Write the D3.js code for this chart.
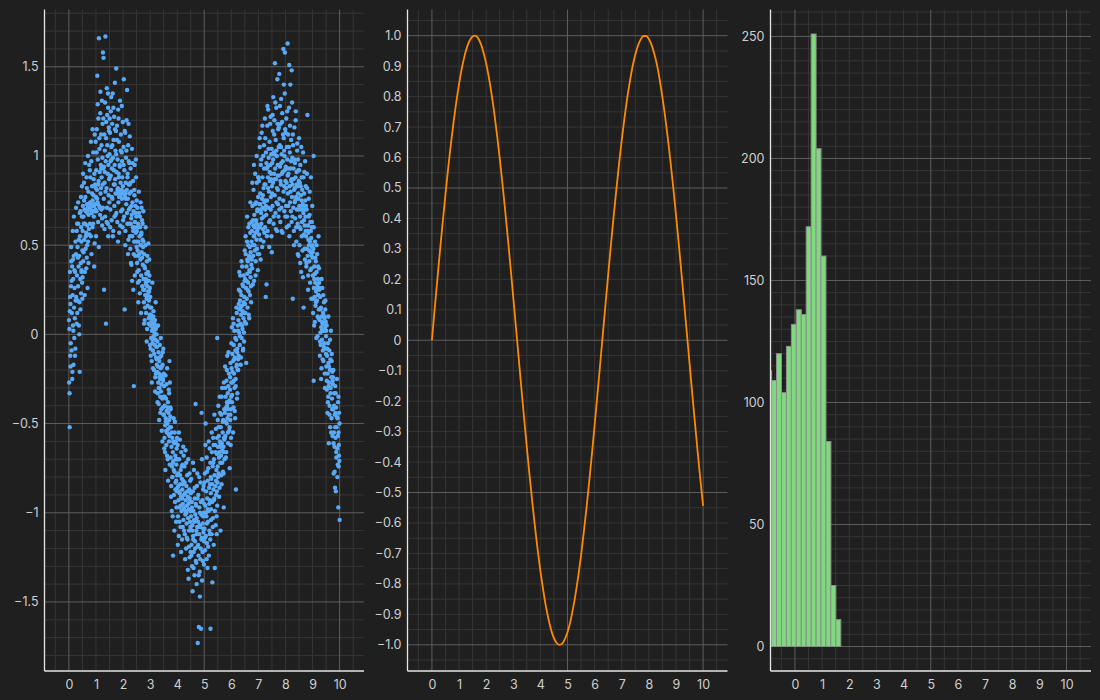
<!DOCTYPE html>
<html>
<head>
<meta charset="utf-8">
<script src="https://cdn.jsdelivr.net/npm/d3@7/dist/d3.min.js"></script>
<style>
  html, body { margin: 0; padding: 0; background: #1f1f1f; }
  svg { display: block; }
  text { font-family: Inter, "Noto Sans", sans-serif; }
</style>
</head>
<body>
<svg id="chart" width="1100" height="700"></svg>
<script>
// ---------------- DATA ----------------
const xTickLabels = [0,1,2,3,4,5,6,7,8,9,10];
const scatterYTicks = [-1.5,-1,-0.5,0,0.5,1,1.5];
const lineYTicks = [1.0,0.9,0.8,0.7,0.6,0.5,0.4,0.3,0.2,0.1,0,-0.1,-0.2,-0.3,-0.4,-0.5,-0.6,-0.7,-0.8,-0.9,-1.0];
const histYTicks = [0,50,100,150,200,250];

// scatter points "x,y"
const scatterPoints = `
0.01,-0.27 0.02,0.03 0.03,-0.52 0.04,0.35 0.05,-0.12 0.06,0.17 0.07,-0.05 0.08,0.27 0.09,0.41 0.10,-0.09 0.11,0.12 0.12,0.38 0.13,-0.21 0.14,0.22 0.15,0.05 0.16,0.31 0.17,-0.17 0.18,0.44 0.19,0.15 0.20,-0.02 0.21,0.26 0.22,0.09 0.23,0.35 0.24,-0.08 0.25,0.19
0.26,0.45 0.27,0.21 0.29,0.58 0.30,0.33 0.31,0.12 0.32,0.49 0.34,0.27 0.35,0.62 0.36,0.38 0.37,0.05 0.38,0.44 0.39,0.18 0.40,-0.21 0.41,0.55 0.42,0.31 0.43,0.69 0.44,0.40 0.45,0.23 0.46,0.52 0.47,0.36 0.48,0.66 0.49,0.29 0.50,0.47
0.51,0.58 0.52,0.72 0.53,0.41 0.54,0.66 0.56,0.85 0.57,0.53 0.58,0.70 0.59,0.35 0.60,0.62 0.61,0.77 0.62,0.48 0.63,0.69 0.64,0.57 0.65,0.88 0.66,0.43 0.67,0.73 0.68,0.61 0.69,0.26 0.70,0.71 0.71,0.52 0.72,0.80 0.73,0.67 0.74,0.59 0.75,0.95
0.76,0.70 0.77,0.73 0.78,0.62 0.79,0.88 0.80,0.71 0.81,0.55 0.82,0.74 0.83,0.97 0.84,0.68 0.85,0.72 0.86,0.83 0.87,0.60 0.88,0.75 0.89,0.69 0.90,1.02 0.91,0.78 0.92,0.66 0.93,0.72 0.94,0.90 0.95,0.51 0.96,0.73 0.97,0.84 0.98,0.70 0.99,1.08 1.00,0.77
1.01,0.92 1.02,0.69 1.03,1.15 1.04,0.81 1.05,1.45 1.06,0.74 1.07,0.98 1.08,0.63 1.09,1.21 1.10,0.86 1.11,1.66 1.12,0.72 1.13,1.04 1.14,0.91 1.15,0.67 1.16,1.24 1.17,0.79 1.18,0.95 1.19,1.12 1.20,0.70 1.21,0.88 1.22,1.31 1.23,0.61 1.24,0.99 1.25,0.84
1.26,1.58 1.27,0.93 1.28,1.55 1.29,0.76 1.30,0.25 1.31,1.12 1.32,0.85 1.33,1.03 1.34,0.66 1.35,1.67 1.36,0.97 1.37,0.06 1.38,1.19 1.39,0.82 1.40,1.38 1.41,0.71 1.42,1.06 1.43,0.90 1.44,0.62 1.45,1.27 1.46,0.95 1.47,0.78 1.48,1.14 1.49,0.87 1.50,1.01
1.51,0.88 1.52,1.13 1.53,0.70 1.54,0.97 1.55,1.25 1.56,0.81 1.57,1.05 1.58,0.64 1.59,0.93 1.60,1.18 1.61,0.76 1.62,1.35 1.63,0.99 1.64,0.58 1.65,1.09 1.66,0.84 1.67,1.22 1.68,0.72 1.69,0.95 1.70,1.41 1.71,0.87 1.72,1.03 1.73,0.67 1.74,1.14 1.75,1.49
1.76,0.91 1.77,0.79 1.78,1.17 1.79,0.63 1.80,0.98 1.81,0.82 1.82,1.26 1.83,0.74 1.84,0.90 1.85,1.08 1.86,0.57 1.87,0.80 1.88,0.94 1.89,1.31 1.90,0.78 1.91,0.85 1.92,1.12 1.93,0.69 1.94,0.81 1.95,1.02 1.96,0.76 1.97,0.88 1.98,0.60 1.99,1.19 2.00,0.79
2.01,0.80 2.02,1.05 2.03,1.43 2.04,0.66 2.05,0.92 2.06,0.14 2.07,0.77 2.08,1.13 2.09,0.58 2.10,0.85 2.11,0.99 2.12,0.73 2.13,1.20 2.14,0.81 2.15,1.37 2.16,0.62 2.17,0.90 2.18,0.76 2.19,1.06 2.20,0.53 2.21,0.84 2.22,0.70 2.23,0.96 2.24,0.79 2.25,1.11
2.26,0.71 2.27,0.48 2.28,0.93 2.29,0.62 2.30,0.80 2.31,0.39 2.32,0.67 2.33,1.04 2.34,0.55 2.35,0.74 2.36,0.60 2.37,0.86 2.38,0.25 2.39,0.69 2.40,-0.29 2.41,0.52 2.42,0.78 2.43,0.95 2.44,0.63 2.45,0.44 2.46,0.72 2.47,0.57 2.48,0.88 2.49,0.66 2.50,0.49
2.51,0.58 2.52,0.40 2.53,0.71 2.54,0.47 2.55,0.29 2.56,0.62 2.57,0.52 2.58,0.36 2.59,0.68 2.60,0.45 2.61,0.55 2.62,0.23 2.63,0.60 2.64,0.42 2.65,0.74 2.66,0.50 2.67,0.33 2.68,0.57 2.69,0.46 2.70,0.64 2.71,0.27 2.72,0.53 2.73,0.39 2.74,0.49 2.75,0.69
2.76,0.31 2.77,0.18 2.78,0.45 2.79,0.25 2.80,0.08 2.81,0.37 2.82,0.22 2.83,0.50 2.84,0.29 2.85,0.12 2.86,0.34 2.87,0.20 2.88,0.41 2.89,0.03 2.90,0.27 2.91,0.16 2.92,0.35 2.93,0.24 2.94,0.06 2.95,0.30 2.96,0.19 2.97,0.42 2.98,0.11 2.99,0.26 3.00,0.15
3.01,0.05 3.02,-0.08 3.03,0.11 3.04,-0.02 3.05,0.07 3.06,-0.15 3.07,0.02 3.08,0.09 3.09,-0.05 3.10,0.04 3.11,-0.19 3.12,0.10 3.13,-0.01 3.14,0.06 3.15,-0.11 3.16,0.01 3.17,-0.06 3.18,0.08 3.19,-0.24 3.20,-0.03 3.21,0.03 3.22,-0.13 3.23,-0.07 3.24,0.00 3.25,-0.17
3.26,-0.21 3.27,-0.04 3.28,-0.33 3.29,-0.18 3.30,-0.27 3.31,-0.10 3.32,-0.39 3.33,-0.22 3.34,-0.15 3.35,-0.30 3.36,-0.06 3.37,-0.25 3.38,-0.44 3.39,-0.19 3.40,-0.32 3.41,-0.12 3.42,-0.28 3.43,-0.54 3.44,-0.23 3.45,-0.36 3.46,-0.17 3.47,-0.41 3.48,-0.26 3.49,-0.08 3.50,-0.35
3.51,-0.45 3.52,-0.29 3.53,-0.58 3.54,-0.40 3.55,-0.66 3.56,-0.51 3.57,-0.23 3.58,-0.47 3.59,-0.36 3.60,-0.62 3.61,-0.43 3.62,-0.55 3.63,-0.19 3.64,-0.50 3.65,-0.70 3.66,-0.38 3.67,-0.53 3.68,-0.44 3.69,-0.31 3.70,-0.60 3.71,-0.48 3.72,-0.57 3.73,-0.27 3.74,-0.52 3.75,-0.41
3.76,-0.69 3.77,-0.52 3.78,-0.85 3.79,-0.63 3.80,-0.99 3.81,-0.74 3.82,-0.58 3.83,-0.80 3.84,-0.66 3.85,-1.24 3.86,-0.71 3.87,-0.47 3.88,-0.90 3.89,-0.61 3.90,-0.77 3.91,-0.55 3.92,-0.94 3.93,-0.68 3.94,-0.83 3.95,-0.60 3.96,-1.05 3.97,-0.73 3.98,-0.64 3.99,-0.88 4.00,-0.79
4.01,-0.86 4.02,-0.62 4.03,-1.02 4.04,-0.78 4.05,-0.93 4.06,-1.13 4.07,-0.70 4.08,-0.88 4.09,-0.97 4.10,-0.59 4.11,-0.84 4.12,-1.08 4.13,-0.76 4.14,-0.91 4.15,-0.66 4.16,-0.99 4.17,-0.81 4.18,-1.15 4.19,-0.87 4.20,-0.73 4.21,-0.95 4.22,-0.82 4.23,-1.04 4.24,-0.68 4.25,-0.90
4.26,-0.97 4.27,-0.74 4.28,-1.12 4.29,-0.89 4.30,-1.01 4.31,-0.65 4.32,-0.93 4.33,-1.20 4.34,-0.85 4.35,-1.06 4.36,-0.96 4.37,-0.79 4.38,-1.15 4.39,-0.91 4.40,-1.03 4.41,-0.70 4.42,-1.37 4.43,-0.98 4.44,-1.10 4.45,-0.87 4.46,-1.25 4.47,-0.94 4.48,-0.82 4.49,-1.08 4.50,-0.99
4.51,-1.02 4.52,-0.81 4.53,-1.18 4.54,-0.94 4.55,-1.30 4.56,-1.07 4.57,-1.44 4.58,-0.88 4.59,-1.13 4.60,-0.99 4.61,-1.22 4.62,-0.76 4.63,-1.05 4.64,-1.35 4.65,-0.92 4.66,-1.16 4.67,-1.01 4.68,-0.39 4.69,-1.27 4.70,-0.96 4.71,-1.10 4.72,-1.40 4.73,-0.85 4.74,-1.08 4.75,-1.19
4.76,-1.73 4.77,-1.05 4.78,-0.90 4.79,-1.24 4.80,-1.64 4.81,-1.12 4.82,-0.97 4.83,-1.33 4.84,-1.47 4.85,-1.08 4.86,-0.83 4.87,-1.20 4.88,-1.65 4.89,-1.01 4.90,-0.44 4.91,-1.14 4.92,-1.38 4.93,-0.93 4.94,-1.06 4.95,-1.27 4.96,-0.87 4.97,-1.11 4.98,-1.00 4.99,-1.29 5.00,-0.95
5.01,-1.09 5.02,-0.78 5.03,-1.21 5.04,-0.96 5.05,-0.50 5.06,-1.13 5.07,-0.88 5.08,-1.02 5.09,-0.69 5.10,-1.17 5.11,-0.92 5.12,-1.31 5.13,-0.82 5.14,-1.05 5.15,-0.75 5.16,-0.99 5.17,-1.24 5.18,-0.86 5.19,-1.10 5.20,-0.64 5.21,-0.93 5.22,-1.15 5.23,-1.65 5.24,-0.80 5.25,-1.04
5.26,-0.81 5.27,-1.12 5.28,-0.66 5.29,-0.94 5.30,-1.39 5.31,-0.74 5.32,-1.03 5.33,-0.58 5.34,-0.87 5.35,-1.18 5.36,-0.70 5.37,-0.92 5.38,-0.79 5.39,-1.31 5.40,-0.62 5.41,-0.85 5.42,-1.07 5.43,-0.53 5.44,-0.90 5.45,-0.76 5.46,-1.12 5.47,-0.67 5.48,-0.96 5.49,-0.83 5.50,-0.48 5.48,-0.02
5.51,-0.63 5.52,-0.40 5.53,-0.78 5.54,-0.57 5.55,-0.91 5.56,-0.66 5.57,-0.35 5.58,-0.60 5.59,-0.72 5.60,-1.10 5.61,-0.52 5.62,-0.68 5.63,-0.45 5.64,-0.84 5.65,-0.61 5.66,-0.30 5.67,-0.65 5.68,-0.55 5.69,-0.77 5.70,-0.48 5.71,-0.63 5.72,-0.97 5.73,-0.58 5.74,-0.42 5.75,-0.70
5.76,-0.44 5.77,-0.18 5.78,-0.57 5.79,-0.35 5.80,-0.69 5.81,-0.41 5.82,-0.26 5.83,-0.50 5.84,-0.38 5.85,-0.12 5.86,-0.47 5.87,-0.33 5.88,-0.61 5.89,-0.29 5.90,-0.45 5.91,-0.22 5.92,-0.54 5.93,-0.37 5.94,-0.75 5.95,-0.31 5.96,-0.48 5.97,-0.16 5.98,-0.42 5.99,-0.58 6.00,-0.27
6.01,-0.19 6.02,0.04 6.03,-0.34 6.04,-0.11 6.05,-0.27 6.06,0.09 6.07,-0.15 6.08,-0.41 6.09,-0.06 6.10,-0.22 6.11,0.02 6.12,-0.30 6.13,-0.13 6.14,-0.47 6.15,-0.09 6.16,-0.25 6.17,-0.87 6.18,-0.03 6.19,-0.18 6.20,0.12 6.21,-0.36 6.22,-0.08 6.23,-0.20 6.24,0.05 6.25,-0.14
6.26,0.08 6.27,-0.12 6.28,0.25 6.29,0.01 6.30,0.14 6.31,-0.06 6.32,0.19 6.33,0.33 6.34,0.06 6.35,-0.17 6.36,0.11 6.37,0.22 6.38,-0.02 6.39,0.16 6.40,0.38 6.41,0.03 6.42,0.13 6.43,-0.09 6.44,0.27 6.45,0.09 6.46,0.18 6.47,-0.04 6.48,0.21 6.49,0.30 6.50,0.07
6.51,0.31 6.52,0.12 6.53,0.45 6.54,0.26 6.55,-0.16 6.56,0.38 6.57,0.20 6.58,0.52 6.59,0.34 6.60,0.15 6.61,0.41 6.62,0.29 6.63,0.60 6.64,0.24 6.65,0.44 6.66,0.09 6.67,0.36 6.68,0.49 6.69,0.22 6.70,0.57 6.71,0.32 6.72,0.43 6.73,0.18 6.74,0.39 6.75,0.63
6.76,0.58 6.77,0.37 6.78,0.72 6.79,0.50 6.80,0.64 6.81,0.44 6.82,0.81 6.83,0.55 6.84,0.30 6.85,0.67 6.86,0.60 6.87,0.47 6.88,0.90 6.89,0.57 6.90,0.41 6.91,0.74 6.92,0.62 6.93,0.53 6.94,0.85 6.95,0.48 6.96,0.69 6.97,0.59 6.98,0.36 6.99,0.77 7.00,0.61
7.01,0.61 7.02,0.86 7.03,0.45 7.04,0.73 7.05,1.05 7.06,0.60 7.07,0.79 7.08,0.53 7.09,0.95 7.10,0.68 7.11,0.62 7.12,1.13 7.13,0.76 7.14,0.49 7.15,0.88 7.16,0.71 7.17,0.59 7.18,1.00 7.19,0.82 7.20,0.66 7.21,0.93 7.22,0.57 7.23,0.75 7.24,1.21 7.25,0.70
7.26,0.84 7.27,0.21 7.28,1.02 7.29,0.67 7.30,0.28 7.31,0.93 7.32,0.75 7.33,1.17 7.34,0.58 7.35,0.88 7.36,1.26 7.37,0.71 7.38,0.99 7.39,0.80 7.40,0.49 7.41,1.08 7.42,0.86 7.43,0.64 7.44,0.95 7.45,1.22 7.46,0.77 7.47,0.90 7.48,0.55 7.49,1.04 7.50,0.83
7.51,0.96 7.52,0.72 7.53,1.14 7.54,0.85 7.55,1.33 7.56,0.62 7.57,1.02 7.58,0.90 7.59,1.20 7.60,0.78 7.61,1.52 7.62,0.93 7.63,0.68 7.64,1.09 7.65,0.87 7.66,1.27 7.67,0.74 7.68,1.00 7.69,0.58 7.70,1.43 7.71,0.95 7.72,0.81 7.73,1.15 7.74,0.66 7.75,1.05
7.76,0.89 7.77,1.46 7.78,0.76 7.79,1.06 7.80,0.94 7.81,0.63 7.82,1.18 7.83,0.84 7.84,1.32 7.85,0.71 7.86,1.01 7.87,0.90 7.88,1.24 7.89,0.57 7.90,0.97 7.91,1.12 7.92,1.60 7.93,0.80 7.94,1.40 7.95,1.03 7.96,0.69 7.97,0.92 7.98,1.58 7.99,1.15 8.00,0.86
8.01,0.94 8.02,0.72 8.03,1.21 8.04,0.85 8.05,1.05 8.06,0.66 8.07,0.98 8.08,1.63 8.09,0.79 8.10,1.12 8.11,0.90 8.12,0.61 8.13,1.27 8.14,1.51 8.15,0.83 8.16,1.02 8.17,0.74 8.18,1.40 8.19,0.93 8.20,0.69 8.21,1.09 8.22,0.87 8.23,1.48 8.24,0.77 8.25,0.99
8.26,0.84 8.27,0.20 8.28,1.06 8.29,0.71 8.30,0.93 8.31,0.58 8.32,0.81 8.33,1.16 8.34,0.74 8.35,0.96 8.36,0.65 8.37,0.88 8.38,1.25 8.39,0.77 8.40,0.52 8.41,0.91 8.42,0.70 8.43,1.03 8.44,0.83 8.45,0.62 8.46,0.98 8.47,0.76 8.48,0.44 8.49,0.86 8.50,1.10
8.51,0.72 8.52,0.50 8.53,0.85 8.54,0.66 8.55,0.95 8.56,0.59 8.57,0.78 8.58,0.35 8.59,0.70 8.60,0.88 8.61,0.63 8.62,0.81 8.63,0.47 8.64,0.73 8.65,1.02 8.66,0.68 8.67,0.15 8.68,0.56 8.69,0.79 8.70,0.91 8.71,0.61 8.72,0.42 8.73,0.75 8.74,0.66 8.75,0.83
8.76,0.55 8.77,0.38 8.78,0.70 8.79,0.48 8.80,0.82 8.81,1.23 8.82,0.44 8.83,0.61 8.84,0.33 8.85,0.57 8.86,0.76 8.87,0.50 8.88,0.41 8.89,0.67 8.90,0.52 8.91,0.29 8.92,0.63 8.93,0.46 8.94,0.88 8.95,0.54 8.96,0.37 8.97,0.60 8.98,0.49 8.99,0.72 9.00,0.43
9.01,0.33 9.02,0.12 9.03,0.48 9.04,1.00 9.05,0.26 9.06,0.05 9.07,0.38 9.08,0.21 9.09,0.52 9.10,0.29 9.11,0.16 9.12,0.41 9.13,0.24 9.14,-0.02 9.15,0.35 9.16,0.19 9.17,0.45 9.18,0.28 9.19,0.10 9.20,0.31 9.21,0.22 9.22,0.55 9.23,0.14 9.24,0.37 9.25,0.25
9.26,0.08 9.27,-0.12 9.28,0.21 9.29,0.01 9.30,-0.06 9.31,0.15 9.32,0.04 9.33,-0.19 9.34,0.10 9.35,-0.03 9.36,0.26 9.37,0.06 9.38,-0.09 9.39,0.12 9.40,-0.15 9.41,0.02 9.42,0.18 9.43,-0.05 9.44,0.09 9.45,-0.22 9.46,0.03 9.47,0.14 9.48,-0.08 9.49,0.07 9.50,-0.01 9.04,-0.26
9.51,-0.18 9.52,0.05 9.53,-0.31 9.54,-0.12 9.55,-0.44 9.56,-0.22 9.57,-0.05 9.58,-0.35 9.59,-0.16 9.60,-0.61 9.61,-0.27 9.62,-0.09 9.63,-0.40 9.64,-0.20 9.65,-0.52 9.66,-0.14 9.67,-0.30 9.68,0.02 9.69,-0.24 9.70,-0.47 9.71,-0.11 9.72,-0.36 9.73,-0.21 9.74,-0.57 9.75,-0.28
9.76,-0.42 9.77,-0.20 9.78,-0.78 9.79,-0.55 9.80,-0.33 9.81,-0.63 9.82,-0.45 9.83,-0.86 9.84,-0.29 9.85,-0.58 9.86,-0.88 9.87,-0.41 9.88,-0.69 9.89,-0.52 9.90,-0.25 9.91,-0.64 9.92,-0.47 9.93,-0.73 9.94,-0.38 9.95,-0.97 9.96,-0.55 9.97,-0.62 9.98,-0.44 9.99,-0.71 10.00,-1.04
0.005,0.08 0.025,-0.33 0.045,0.21 0.065,-0.18 0.085,0.49 0.105,0.30 0.125,-0.25 0.145,0.58 0.165,0.02 0.185,0.66 0.205,0.36 0.225,-0.12 0.245,0.52 0.035,0.13 0.155,0.42
0.265,0.71 0.285,0.06 0.305,0.62 0.325,0.19 0.345,0.74 0.365,0.53 0.385,0.00 0.405,0.68 0.425,0.14 0.445,0.77 0.465,0.35 0.485,0.83 0.335,0.43 0.455,0.60 0.495,0.20
0.505,0.32 0.525,0.90 0.545,0.46 0.565,0.75 0.585,0.22 0.605,0.96 0.625,0.55 0.645,0.37 0.665,0.82 0.685,0.68 0.705,1.00 0.725,0.40 0.745,0.73 0.555,0.62 0.675,0.50
0.755,0.56 0.775,0.92 0.795,0.71 0.815,1.08 0.835,0.45 0.855,0.79 0.875,1.15 0.895,0.62 0.915,0.87 0.935,0.38 0.955,1.12 0.975,0.69 0.995,0.82 0.785,0.74 0.905,0.72
1.005,0.55 1.025,1.02 1.045,0.76 1.065,1.29 1.085,0.84 1.105,0.49 1.125,1.10 1.145,0.71 1.165,1.36 1.185,0.82 1.205,1.06 1.225,0.65 1.245,1.18 1.065,0.73 1.195,0.93
1.255,0.71 1.275,1.21 1.295,0.94 1.315,0.59 1.335,1.30 1.355,0.80 1.375,1.10 1.395,0.63 1.415,1.23 1.435,1.00 1.455,0.55 1.475,1.16 1.495,0.74 1.325,0.91 1.445,1.35
1.505,1.21 1.525,0.60 1.545,0.89 1.565,1.33 1.585,0.77 1.605,1.06 1.625,0.55 1.645,1.27 1.665,0.92 1.685,0.66 1.705,1.15 1.725,0.79 1.745,1.01 1.575,0.98 1.695,0.84
1.755,0.68 1.775,1.09 1.795,0.81 1.815,0.52 1.835,1.21 1.855,0.77 1.875,0.95 1.895,0.61 1.915,1.03 1.935,0.79 1.955,1.28 1.975,0.70 1.995,0.83 1.845,0.88 1.965,0.97
2.005,0.64 2.025,0.95 2.045,0.80 2.065,1.14 2.085,0.50 2.105,0.76 2.125,1.03 2.145,0.68 2.165,0.88 2.185,0.45 2.205,1.18 2.225,0.62 2.245,0.84 2.095,0.79 2.215,0.97
2.255,0.55 2.275,0.85 2.295,0.40 2.315,0.72 2.335,0.30 2.355,0.96 2.375,0.58 2.395,0.45 2.415,0.81 2.435,0.33 2.455,0.68 2.475,0.98 2.495,0.52 2.305,0.65 2.425,0.60
2.505,0.75 2.525,0.35 2.545,0.60 2.565,0.18 2.585,0.80 2.605,0.30 2.625,0.66 2.645,0.50 2.665,0.12 2.685,0.71 2.705,0.43 2.725,0.62 2.745,0.25 2.555,0.44 2.675,0.56
2.755,0.52 2.775,0.06 2.795,0.38 2.815,0.15 2.835,0.60 2.855,0.28 2.875,-0.04 2.895,0.44 2.915,0.22 2.935,0.51 2.955,0.09 2.975,0.33 2.995,-0.06 2.845,0.31 2.965,0.24
3.005,0.21 3.025,-0.12 3.045,0.15 3.065,-0.27 3.085,0.29 3.105,-0.09 3.125,0.13 3.145,-0.20 3.165,0.06 3.185,-0.32 3.205,0.18 3.225,0.04 3.245,-0.14 3.095,-0.03 3.215,-0.22
3.255,-0.07 3.275,-0.38 3.295,0.05 3.315,-0.30 3.335,-0.48 3.355,-0.13 3.375,-0.35 3.395,-0.02 3.415,-0.42 3.435,-0.18 3.455,-0.60 3.475,-0.25 3.495,-0.45 3.345,-0.24 3.465,-0.10
3.505,-0.22 3.525,-0.64 3.545,-0.35 3.565,-0.76 3.585,-0.49 3.605,-0.28 3.625,-0.68 3.645,-0.41 3.665,-0.82 3.685,-0.56 3.705,-0.33 3.725,-0.73 3.745,-0.46 3.595,-0.54 3.715,-0.15
3.755,-0.42 3.775,-0.91 3.795,-0.55 3.815,-0.80 3.835,-1.02 3.855,-0.60 3.875,-0.76 3.895,-1.10 3.915,-0.49 3.935,-0.87 3.955,-0.70 3.975,-0.97 3.995,-0.58 3.845,-0.72 3.965,-0.82
4.005,-0.70 4.025,-1.18 4.045,-0.85 4.065,-0.55 4.085,-1.05 4.105,-0.79 4.125,-0.96 4.145,-1.22 4.165,-0.74 4.185,-0.92 4.205,-1.08 4.225,-0.63 4.245,-0.98 4.095,-0.89 4.215,-0.84
4.255,-1.10 4.275,-0.83 4.295,-1.26 4.315,-0.99 4.335,-0.72 4.355,-1.14 4.375,-0.88 4.395,-1.32 4.415,-0.95 4.435,-1.19 4.455,-0.78 4.475,-1.05 4.495,-1.22 4.345,-1.00 4.465,-0.92
4.505,-0.89 4.525,-1.24 4.545,-0.97 4.565,-1.10 4.585,-0.72 4.605,-1.31 4.625,-1.04 4.645,-0.86 4.665,-1.20 4.685,-0.95 4.705,-1.28 4.725,-1.03 4.745,-0.78 4.595,-1.15 4.715,-1.12
4.755,-0.92 4.775,-1.18 4.795,-1.35 4.815,-0.80 4.835,-1.07 4.855,-1.26 4.875,-0.94 4.895,-1.15 4.915,-0.70 4.935,-1.22 4.955,-1.02 4.975,-0.85 4.995,-1.16 4.845,-1.00 4.965,-1.09
5.005,-0.83 5.025,-1.14 5.045,-0.62 5.065,-1.00 5.085,-1.26 5.105,-0.77 5.125,-0.98 5.145,-1.19 5.165,-0.60 5.185,-0.95 5.205,-1.12 5.225,-0.72 5.245,-0.89 5.095,-1.06 5.215,-0.84
5.255,-0.98 5.275,-0.55 5.295,-0.84 5.315,-1.08 5.335,-0.72 5.355,-0.93 5.375,-0.45 5.395,-0.99 5.415,-0.66 5.435,-0.82 5.455,-1.02 5.475,-0.58 5.495,-0.74 5.345,-0.62 5.465,-0.88
5.505,-0.80 5.525,-0.52 5.545,-0.69 5.565,-0.86 5.585,-0.44 5.605,-0.61 5.625,-0.79 5.645,-0.35 5.665,-0.72 5.685,-0.49 5.705,-0.66 5.725,-0.27 5.745,-0.59 5.595,-0.63 5.715,-0.78
5.755,-0.58 5.775,-0.30 5.795,-0.49 5.815,-0.66 5.835,-0.20 5.855,-0.42 5.875,-0.55 5.895,-0.10 5.915,-0.38 5.935,-0.52 5.955,-0.24 5.975,-0.62 5.995,-0.35 5.845,-0.40 5.965,-0.45
6.005,-0.05 6.025,-0.38 6.045,-0.21 6.065,-0.55 6.085,0.06 6.105,-0.14 6.125,-0.43 6.145,-0.02 6.165,-0.29 6.185,0.15 6.205,-0.17 6.225,-0.33 6.245,0.02 6.095,-0.26 6.215,-0.10
6.255,-0.20 6.275,0.17 6.295,0.35 6.315,-0.01 6.335,0.24 6.355,-0.13 6.375,0.41 6.395,0.05 6.415,0.28 6.435,-0.08 6.455,0.33 6.475,0.12 6.495,0.47 6.345,0.15 6.465,0.01
6.505,0.17 6.525,0.55 6.545,0.06 6.565,0.30 6.585,0.66 6.605,0.25 6.625,0.50 6.645,0.11 6.665,0.62 6.685,0.35 6.705,0.74 6.725,0.27 6.745,0.52 6.595,0.42 6.715,0.46
6.755,0.42 6.775,0.85 6.795,0.28 6.815,0.61 6.835,0.95 6.855,0.50 6.875,0.73 6.895,0.33 6.915,0.64 6.935,1.00 6.955,0.58 6.975,0.45 6.995,0.88 6.845,0.55 6.965,0.70
7.005,0.88 7.025,0.56 7.045,1.10 7.065,0.73 7.085,0.42 7.105,0.98 7.125,0.65 7.145,1.17 7.165,0.78 7.185,0.52 7.205,1.06 7.225,0.84 7.245,0.60 7.095,0.70 7.215,0.74
7.255,1.10 7.275,0.72 7.295,0.96 7.315,0.55 7.335,1.28 7.355,0.82 7.375,1.04 7.395,0.63 7.415,0.91 7.435,1.18 7.455,0.70 7.475,1.01 7.495,0.46 7.345,0.94 7.465,0.87
7.505,0.79 7.525,1.23 7.545,0.98 7.565,0.66 7.585,1.12 7.605,0.87 7.625,1.30 7.645,0.59 7.665,1.03 7.685,0.82 7.705,1.18 7.725,0.73 7.745,0.95 7.595,1.01 7.715,0.89
7.755,1.16 7.775,0.70 7.795,1.28 7.815,0.86 7.835,1.05 7.855,0.58 7.875,1.19 7.895,0.91 7.915,0.75 7.935,1.10 7.955,0.83 7.975,1.35 7.995,0.66 7.845,0.96 7.965,1.00
8.005,1.13 8.025,0.82 8.045,0.60 8.065,1.25 8.085,0.89 8.105,0.72 8.125,1.05 8.145,0.55 8.165,1.17 8.185,0.80 8.205,0.97 8.225,0.63 8.245,1.30 8.095,0.93 8.215,0.86
8.255,0.66 8.275,1.12 8.295,0.87 8.315,0.50 8.335,0.98 8.355,0.75 8.375,1.20 8.395,0.60 8.415,0.84 8.435,1.07 8.455,0.45 8.475,0.92 8.495,0.70 8.345,0.82 8.465,0.79
8.505,0.92 8.525,0.60 8.545,0.40 8.565,0.83 8.585,1.05 8.605,0.55 8.625,0.72 8.645,0.32 8.665,0.88 8.685,0.64 8.705,0.48 8.725,0.97 8.745,0.58 8.595,0.75 8.715,0.70
8.755,0.72 8.775,0.40 8.795,0.90 8.815,0.58 8.835,0.25 8.855,0.66 8.875,0.47 8.895,0.80 8.915,0.36 8.935,0.58 8.955,0.20 8.975,0.63 8.995,0.50 8.845,0.53 8.965,0.44
9.005,0.46 9.025,0.20 9.045,0.60 9.065,0.31 9.085,0.07 9.105,0.43 9.125,0.18 9.145,0.50 9.165,0.26 9.185,-0.01 9.205,0.38 9.225,0.09 9.245,0.29 9.095,0.34 9.215,0.22
9.255,0.26 9.275,-0.04 9.295,0.14 9.315,-0.25 9.335,0.31 9.355,0.07 9.375,-0.14 9.395,0.22 9.415,-0.07 9.435,0.10 9.455,-0.30 9.475,0.19 9.495,-0.11 9.345,0.02 9.465,0.05
9.505,0.02 9.525,-0.26 9.545,-0.08 9.565,-0.38 9.585,0.10 9.605,-0.18 9.625,-0.45 9.645,-0.03 9.665,-0.33 9.685,-0.55 9.705,-0.15 9.725,-0.42 9.745,-0.26 9.595,-0.29 9.715,-0.20
9.755,-0.24 9.775,-0.61 9.795,-0.40 9.815,-0.77 9.835,-0.52 9.855,-0.33 9.875,-0.66 9.895,-0.46 9.915,-0.80 9.935,-0.57 9.955,-0.35 9.975,-0.68 9.995,-0.50 9.845,-0.44 9.965,-0.74
`;

// line series: y values sampled at x = 0, 0.1, ..., 10
const lineStep = 0.1;
const lineValues = [0,0.100,0.199,0.296,0.389,0.479,0.565,0.644,0.717,0.783,0.841,0.891,0.932,0.964,0.985,0.997,1.000,0.992,0.974,0.946,0.909,0.863,0.808,0.746,0.675,0.598,0.516,0.427,0.335,0.239,0.141,0.042,-0.058,-0.158,-0.256,-0.351,-0.443,-0.530,-0.612,-0.688,-0.757,-0.818,-0.872,-0.916,-0.952,-0.978,-0.994,-1.000,-0.996,-0.982,-0.959,-0.926,-0.883,-0.832,-0.773,-0.706,-0.631,-0.551,-0.465,-0.374,-0.279,-0.182,-0.083,0.017,0.117,0.215,0.312,0.405,0.494,0.578,0.657,0.729,0.794,0.850,0.899,0.938,0.968,0.988,0.999,0.999,0.989,0.970,0.941,0.904,0.855,0.798,0.734,0.663,0.585,0.501,0.412,0.319,0.223,0.124,0.024,-0.075,-0.175,-0.272,-0.366,-0.458,-0.544];

// histogram bins
const histEdges = [-1.042,-0.860,-0.678,-0.496,-0.314,-0.132,0.050,0.232,0.414,0.596,0.778,0.960,1.142,1.324,1.506,1.688];
const histCounts = [113,109,120,104,123,132,138,136,172,251,204,160,84,25,11];

// ---------------- LAYOUT ----------------
const svg = d3.select("#chart");
const W = 1100, H = 700;
const plotTop = 9.5, plotBottom = 671;
const panels = [
  {x0: 44.5, x1: 364},
  {x0: 407.5, x1: 727.5},
  {x0: 770.5, x1: 1091}
];
const xDomain = [-0.9, 10.9];
const C = {
  bg: "#1f1f1f", minor: "#363636", major: "#5e5e5e", axis: "#e6e6e6",
  text: "#cfcfcf", blue: "#5aa9f6", orange: "#ff8a00", green: "#7fd97f", barStroke: "#8e8e8e"
};

svg.append("rect").attr("width", W).attr("height", H).attr("fill", C.bg);

function makePanel(i, yDomain, xMinor, xMajor, yMinor, yMajor, yTicks, yFmt) {
  const p = panels[i];
  const x = d3.scaleLinear().domain(xDomain).range([p.x0, p.x1]);
  const y = d3.scaleLinear().domain(yDomain).range([plotBottom, plotTop]);
  const g = svg.append("g");
  const clipId = "clip" + i;
  svg.append("clipPath").attr("id", clipId).append("rect")
    .attr("x", p.x0).attr("y", plotTop).attr("width", p.x1 - p.x0).attr("height", plotBottom - plotTop);

  const near = (v, s) => Math.abs(v / s - Math.round(v / s)) < 1e-6;
  const xs = d3.range(Math.ceil(xDomain[0] / xMinor), Math.floor(xDomain[1] / xMinor) + 1).map(k => +(k * xMinor).toFixed(6));
  const ys = d3.range(Math.ceil(yDomain[0] / yMinor), Math.floor(yDomain[1] / yMinor) + 1).map(k => +(k * yMinor).toFixed(6));
  const grid = g.append("g");
  grid.selectAll(".vminor").data(xs.filter(v => !near(v, xMajor))).join("line")
    .attr("x1", d => x(d)).attr("x2", d => x(d)).attr("y1", plotTop).attr("y2", plotBottom)
    .attr("stroke", C.minor).attr("stroke-width", 1);
  grid.selectAll(".hminor").data(ys.filter(v => !near(v, yMajor))).join("line")
    .attr("y1", d => y(d)).attr("y2", d => y(d)).attr("x1", p.x0).attr("x2", p.x1)
    .attr("stroke", C.minor).attr("stroke-width", 1);
  grid.selectAll(".vmajor").data(xs.filter(v => near(v, xMajor))).join("line")
    .attr("x1", d => x(d)).attr("x2", d => x(d)).attr("y1", plotTop).attr("y2", plotBottom)
    .attr("stroke", C.major).attr("stroke-width", 1);
  grid.selectAll(".hmajor").data(ys.filter(v => near(v, yMajor))).join("line")
    .attr("y1", d => y(d)).attr("y2", d => y(d)).attr("x1", p.x0).attr("x2", p.x1)
    .attr("stroke", C.major).attr("stroke-width", 1);

  const plot = g.append("g").attr("clip-path", `url(#${clipId})`);

  const xAxis = d3.axisBottom(x).tickValues(xTickLabels).tickSize(0).tickPadding(9).tickFormat(d3.format("d"));
  const yAxis = d3.axisLeft(y).tickValues(yTicks).tickSize(0).tickPadding(6).tickFormat(yFmt);
  const ax = svg.append("g").attr("transform", `translate(0,${plotBottom})`).call(xAxis);
  const ay = svg.append("g").attr("transform", `translate(${p.x0},0)`).call(yAxis);
  [ax, ay].forEach(a => {
    a.select(".domain").remove();
    a.selectAll("text").attr("fill", C.text).style("font-size", "12.5px").style("font-family", "Inter, 'Noto Sans', sans-serif");
  });
  svg.append("line").attr("x1", p.x0).attr("x2", p.x0).attr("y1", plotTop).attr("y2", plotBottom)
    .attr("stroke", C.axis).attr("stroke-width", 1.3);
  svg.append("line").attr("x1", p.x0).attr("x2", p.x1).attr("y1", plotBottom).attr("y2", plotBottom)
    .attr("stroke", C.axis).attr("stroke-width", 1.3);
  return {x, y, plot};
}

// Panel 1: scatter
const pts = scatterPoints.trim().split(/\s+/).map(s => s.split(",").map(Number));
const P1 = makePanel(0, [-1.887, 1.821], 0.5, 5, 0.1, 0.5, scatterYTicks, d3.format("~g"));
P1.plot.selectAll("circle").data(pts).join("circle")
  .attr("cx", d => P1.x(d[0])).attr("cy", d => P1.y(d[1])).attr("r", 2.2)
  .attr("fill", C.blue);

// Panel 2: line
const P2 = makePanel(1, [-1.086, 1.086], 0.5, 5, 0.05, 0.5, lineYTicks,
  d => d === 0 ? "0" : d3.format(".1f")(d));
const lineData = lineValues.map((v, i) => [i * lineStep, v]);
P2.plot.append("path").datum(lineData)
  .attr("d", d3.line().x(d => P2.x(d[0])).y(d => P2.y(d[1])).curve(d3.curveMonotoneX))
  .attr("fill", "none").attr("stroke", C.orange).attr("stroke-width", 1.8);

// Panel 3: histogram
const P3 = makePanel(2, [-10.04, 261.04], 0.5, 5, 5, 50, histYTicks, d3.format("d"));
const bins = histCounts.map((c, i) => ({x0: histEdges[i], x1: histEdges[i + 1], c}));
P3.plot.selectAll("rect").data(bins).join("rect")
  .attr("x", d => P3.x(d.x0)).attr("width", d => P3.x(d.x1) - P3.x(d.x0))
  .attr("y", d => P3.y(d.c)).attr("height", d => P3.y(0) - P3.y(d.c))
  .attr("fill", C.green).attr("stroke", C.barStroke).attr("stroke-width", 1);
</script>
</body>
</html>
